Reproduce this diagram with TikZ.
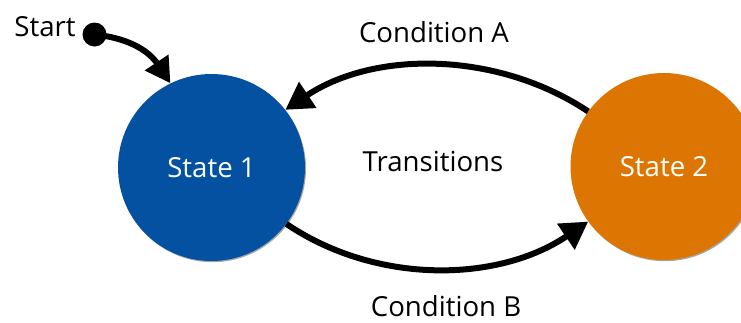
\documentclass[tikz,border=0pt]{standalone}
\usepackage{fontspec}
\setmainfont{Open Sans}
\usetikzlibrary{arrows.meta,shadows}
\definecolor{stblue}{RGB}{3,81,160}
\definecolor{storange}{RGB}{221,117,2}
\begin{document}
\begin{tikzpicture}[x=1pt,y=-1pt,
  lbl/.style={inner sep=0pt,font=\fontsize{27.6}{32}\selectfont},
  statecirc/.style={circle,minimum size=187pt,inner sep=0pt,text=white,
    font=\fontsize{27.6}{32}\selectfont,
    drop shadow={shadow xshift=1pt,shadow yshift=-1.2pt,opacity=0.35,fill=black}},
  conn/.style={line width=6pt,-{Triangle[length=27pt,width=30pt]}}]
\useasboundingbox (0,0) rectangle (741,322);
\begin{scope}
\clip (0,0) rectangle (741,322);
\node[statecirc,fill=stblue] (s1) at (211.5,167.5) {State 1};
\node[statecirc,fill=storange] (s2) at (664,166.5) {State 2};
\end{scope}
\node[circle,fill=black,minimum size=24pt,inner sep=0pt] (dot) at (94.5,34.5) {};
\node[lbl] (start) at (45,27) {Start};
\node[lbl] (ca) at (434,32) {Condition A};
\node[lbl] (tr) at (433,162) {Transitions};
\node[lbl] (cb) at (446,306) {Condition B};
\draw[conn,-{Triangle[length=25pt,width=27pt]}] (dot.center) .. controls +(38,4) and +(-20,-30) .. (s1.116);
\draw[conn] (s2.144) .. controls +(-90,-60) and +(90,-60) .. (s1.38);
\draw[conn] (s1.-37) .. controls +(90,61) and +(-90,61) .. (s2.216);
\end{tikzpicture}
\end{document}
